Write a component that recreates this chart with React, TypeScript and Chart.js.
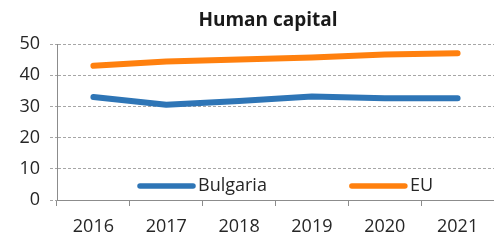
import React, { useEffect, useRef } from "react";
import { Chart, registerables } from "chart.js";

Chart.register(...registerables);

const title = "Human capital";
const years = ["2016", "2017", "2018", "2019", "2020", "2021"];
const bulgaria = [33.0, 30.5, 31.7, 33.2, 32.6, 32.6];
const eu = [43.0, 44.4, 45.0, 45.7, 46.6, 47.0];
const yTicks = [0, 10, 20, 30, 40, 50];

const FONT = "'Open Sans', sans-serif";
const TEXT = "#262626";

const titlePlugin = {
  id: "customTitle",
  afterDraw(chart: any) {
    const { ctx, chartArea } = chart;
    ctx.save();
    ctx.font = `bold 19px ${FONT}`;
    ctx.fillStyle = "#1a1a1a";
    ctx.textAlign = "center";
    ctx.textBaseline = "middle";
    ctx.fillText(title, chartArea.left + 211, 21);
    ctx.restore();
  },
};

const legendPlugin = {
  id: "innerLegend",
  afterDatasetsDraw(chart: any) {
    const { ctx, chartArea } = chart;
    const y = chartArea.bottom - 14;
    let x = chartArea.left + 81;
    ctx.save();
    ctx.font = `18px ${FONT}`;
    ctx.textBaseline = "middle";
    ctx.textAlign = "left";
    chart.data.datasets.forEach((ds: any) => {
      ctx.strokeStyle = ds.borderColor;
      ctx.lineWidth = 5.5;
      ctx.lineCap = "round";
      ctx.beginPath();
      ctx.moveTo(x + 2, y);
      ctx.lineTo(x + 55, y);
      ctx.stroke();
      ctx.fillStyle = TEXT;
      ctx.fillText(ds.label, x + 60, y);
      const w = ctx.measureText(ds.label).width;
      x += 60 + w + 83;
    });
    ctx.restore();
  },
};

export default function App() {
  const ref = useRef<HTMLCanvasElement>(null);
  useEffect(() => {
    document.body.style.margin = "0";
    const chart = new Chart(ref.current!, {
      type: "line",
      data: {
        labels: years,
        datasets: [
          {
            label: "Bulgaria",
            data: bulgaria,
            borderColor: "#2e75b6",
            backgroundColor: "#2e75b6",
            borderWidth: 6,
            pointRadius: 0,
            tension: 0,
            borderCapStyle: "round",
            borderJoinStyle: "round",
          },
          {
            label: "EU",
            data: eu,
            borderColor: "#ff800e",
            backgroundColor: "#ff800e",
            borderWidth: 6,
            pointRadius: 0,
            tension: 0,
            borderCapStyle: "round",
            borderJoinStyle: "round",
          },
        ],
      },
      options: {
        animation: false,
        responsive: false,
        maintainAspectRatio: false,
        layout: { padding: { top: 44, left: 0, right: 0, bottom: 0 } },
        plugins: {
          legend: { display: false },
          title: { display: false },
          tooltip: { enabled: false },
        },
        scales: {
          x: {
            offset: true,
            grid: {
              display: true,
              drawOnChartArea: false,
              drawTicks: true,
              tickLength: 6,
              tickColor: "#8c8c8c",
              offset: true,
            },
            border: { display: true, color: "#8c8c8c", width: 1 },
            ticks: {
              font: { family: FONT, size: 18 },
              color: TEXT,
              padding: 10,
              maxRotation: 0,
              autoSkip: false,
            },
            afterFit(scale: any) {
              scale.height = 40;
            },
          },
          y: {
            min: 0,
            max: 50,
            afterBuildTicks(scale: any) {
              scale.ticks = yTicks.map((v) => ({ value: v }));
            },
            grid: {
              color: "#a6a6a6",
              tickLength: 7,
              tickColor: "#a6a6a6",
              tickBorderDash: [3, 2],
            },
            border: { display: true, color: "#8c8c8c", width: 1, dash: [3, 2] },
            ticks: {
              font: { family: FONT, size: 18 },
              color: TEXT,
              padding: 10,
            },
            afterFit(scale: any) {
              scale.width = 57;
            },
          },
        },
      },
      plugins: [titlePlugin, legendPlugin],
    } as any);
    return () => chart.destroy();
  }, []);
  return (
    <div style={{ width: 494, height: 240 }}>
      <canvas ref={ref} width={494} height={240} style={{ display: "block" }} />
    </div>
  );
}
